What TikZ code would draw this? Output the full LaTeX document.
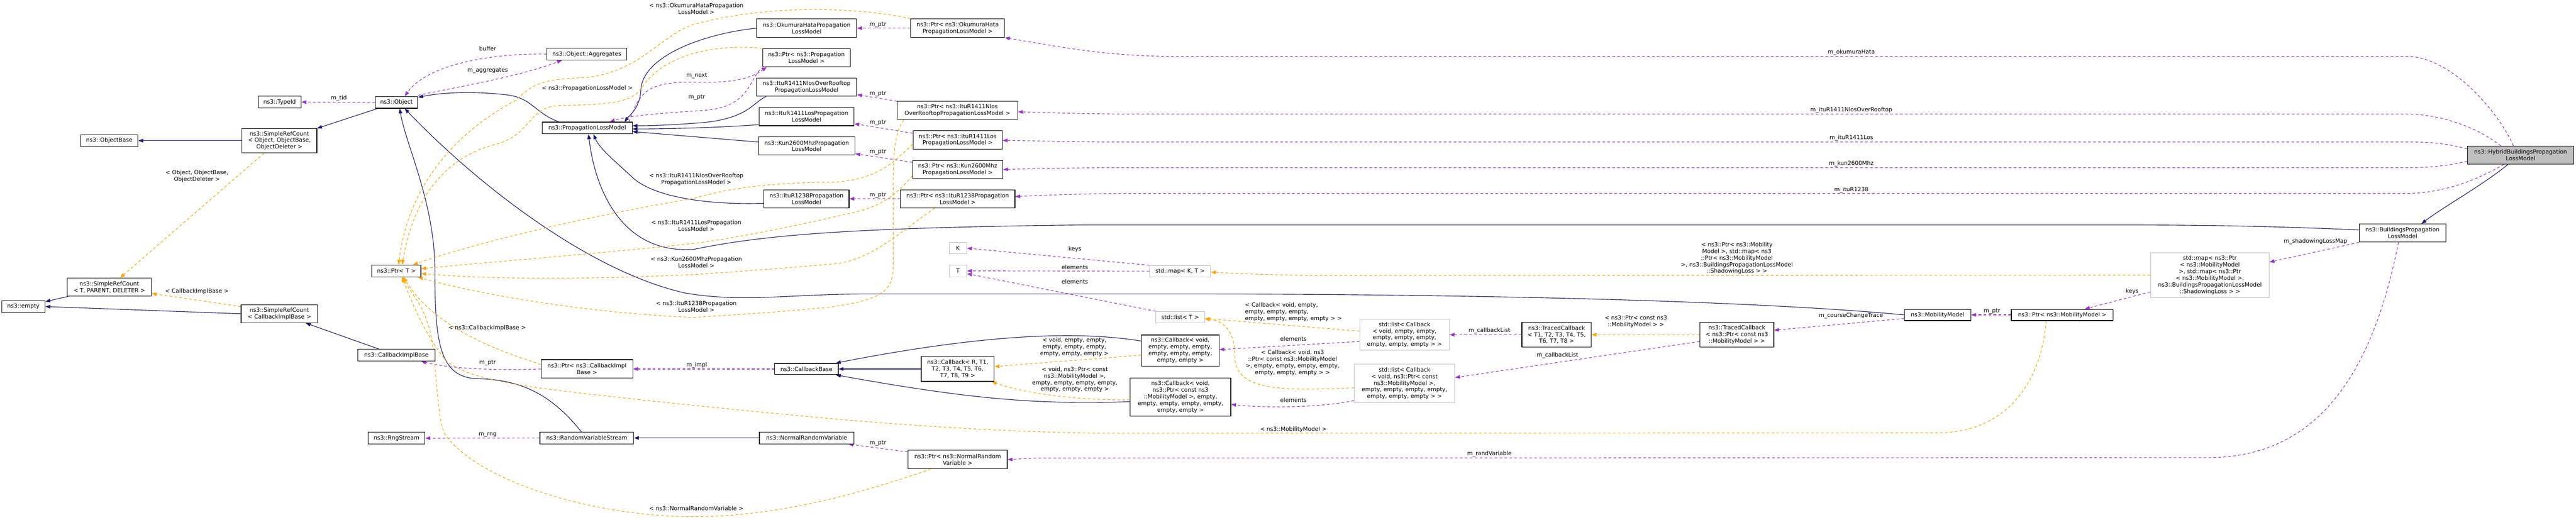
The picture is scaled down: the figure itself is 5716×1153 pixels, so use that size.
\documentclass[tikz,border=0pt]{standalone}
\usepackage{fontspec}
\setmainfont{DejaVu Sans}
\usepackage{xcolor}
\usepackage{tikz}
\usetikzlibrary{arrows.meta, backgrounds}

\definecolor{inhcol}{HTML}{191970}
\definecolor{usecol}{HTML}{9A32CD}
\definecolor{tplcol}{HTML}{FFA500}
\definecolor{extcol}{HTML}{BFBFBF}
\newcommand{\dfont}{\fontsize{12.6}{14.7}\selectfont}

\begin{document}
\begin{tikzpicture}[x=1pt, y=-1pt,
    cls/.style={rectangle, draw=black, fill=white, line width=1.3pt, inner sep=1pt, align=center, font=\dfont},
    ext/.style={cls, draw=extcol},
    lbl/.style={inner sep=0pt, align=center, font=\dfont},
    inh/.style={draw=inhcol, line width=1.3pt, -{Triangle[length=11pt,width=8pt]}},
    use/.style={draw=usecol, line width=1.3pt, dash pattern=on 6pt off 5pt, -{Triangle[length=11pt,width=8pt]}},
    tpl/.style={draw=tplcol, line width=1.3pt, dash pattern=on 6pt off 5pt, -{Triangle[length=11pt,width=8pt]}}]
    \useasboundingbox (0,0) rectangle (5716,1153);

    % Classi base a sinistra
    \node[cls, minimum width=96pt, minimum height=26pt] (empty) at (52,680) {ns3::empty};
    \node[cls, minimum width=187pt, minimum height=40pt] (srcT) at (242.5,637) {ns3::SimpleRefCount\\< T, PARENT, DELETER >};
    \node[cls, minimum width=127pt, minimum height=26pt] (objBase) at (242.5,312) {ns3::ObjectBase};
    \node[cls, minimum width=166pt, minimum height=54pt] (srcObj) at (620,312) {ns3::SimpleRefCount\\< Object, ObjectBase,\\ObjectDeleter >};
    \node[cls, minimum width=170pt, minimum height=40pt] (srcCb) at (620,696) {ns3::SimpleRefCount\\< CallbackImplBase >};
    \node[cls, minimum width=95pt, minimum height=26pt] (typeId) at (620.5,226.5) {ns3::TypeId};
    \node[cls, minimum width=94pt, minimum height=26pt] (object) at (880,227) {ns3::Object};
    \node[cls, minimum width=109pt, minimum height=26pt] (ptrT) at (879.5,601) {ns3::Ptr< T >};
    \node[cls, minimum width=171pt, minimum height=26pt] (cbImpl) at (879.5,788) {ns3::CallbackImplBase};
    \node[cls, minimum width=126pt, minimum height=26pt] (rng) at (880,972) {ns3::RngStream};
    \node[cls, minimum width=178pt, minimum height=26pt] (aggr) at (1302,120) {ns3::Object::Aggregates};
    \node[cls, minimum width=200pt, minimum height=26pt] (plm) at (1303,284) {ns3::PropagationLossModel};
    \node[cls, minimum width=203pt, minimum height=41pt] (ptrCb) at (1302.5,818.5) {ns3::Ptr< ns3::CallbackImpl\\Base >};
    \node[cls, minimum width=208pt, minimum height=26pt] (rvs) at (1302,971.5) {ns3::RandomVariableStream};

    % Modelli di propagazione
    \node[cls, minimum width=222pt, minimum height=41pt] (oku) at (1790,62.5) {ns3::OkumuraHataPropagation\\LossModel};
    \node[cls, minimum width=195pt, minimum height=40pt] (ptrPlm) at (1789.5,128) {ns3::Ptr< ns3::Propagation\\LossModel >};
    \node[cls, minimum width=222pt, minimum height=40pt] (nlos) at (1790,193) {ns3::ItuR1411NlosOverRooftop\\PropagationLossModel};
    \node[cls, minimum width=211pt, minimum height=41pt] (los) at (1789.5,258.5) {ns3::ItuR1411LosPropagation\\LossModel};
    \node[cls, minimum width=214pt, minimum height=40pt] (kun) at (1790,324) {ns3::Kun2600MhzPropagation\\LossModel};
    \node[cls, minimum width=189pt, minimum height=40pt] (r1238) at (1789.5,441) {ns3::ItuR1238Propagation\\LossModel};
    \node[cls, minimum width=141pt, minimum height=25pt] (cbBase) at (1789.5,818.5) {ns3::CallbackBase};
    \node[cls, minimum width=210pt, minimum height=26pt] (nrv) at (1790,971.5) {ns3::NormalRandomVariable};

    % Puntatori
    \node[cls, minimum width=208pt, minimum height=41pt] (ptrOku) at (2125,62.5) {ns3::Ptr< ns3::OkumuraHata\\PropagationLossModel >};
    \node[cls, minimum width=267pt, minimum height=40pt] (ptrNlos) at (2124.5,245) {ns3::Ptr< ns3::ItuR1411Nlos\\OverRooftopPropagationLossModel >};
    \node[cls, minimum width=198pt, minimum height=41pt] (ptrLos) at (2125,310.5) {ns3::Ptr< ns3::ItuR1411Los\\PropagationLossModel >};
    \node[cls, minimum width=200pt, minimum height=40pt] (ptrKun) at (2125,376) {ns3::Ptr< ns3::Kun2600Mhz\\PropagationLossModel >};
    \node[cls, minimum width=254pt, minimum height=40pt] (ptr1238) at (2125,441) {ns3::Ptr< ns3::ItuR1238Propagation\\LossModel >};
    \node[ext, minimum width=39pt, minimum height=25pt] (k) at (2125.5,550.5) {K};
    \node[ext, minimum width=39pt, minimum height=26pt] (t) at (2125.5,601) {T};
    \node[cls, minimum width=162pt, minimum height=55pt] (cbRT) at (2125,818.5) {ns3::Callback< R, T1,\\T2, T3, T4, T5, T6,\\T7, T8, T9 >};
    \node[cls, minimum width=220pt, minimum height=41pt] (ptrNrv) at (2125,1019.5) {ns3::Ptr< ns3::NormalRandom\\Variable >};

    % Contenitori e callback
    \node[ext, minimum width=135pt, minimum height=25pt] (mapKT) at (2618.5,601.5) {std::map< K, T >};
    \node[ext, minimum width=108pt, minimum height=25pt] (listT) at (2619,703.5) {std::list< T >};
    \node[cls, minimum width=172pt, minimum height=69pt] (cbEmpty) at (2619,777.5) {ns3::Callback< void,\\empty, empty, empty,\\empty, empty, empty,\\empty, empty >};
    \node[cls, minimum width=223pt, minimum height=84pt] (cbPtr) at (2619.5,881) {ns3::Callback< void,\\ns3::Ptr< const ns3\\::MobilityModel >, empty,\\empty, empty, empty, empty,\\empty, empty >};
    \node[ext, minimum width=199pt, minimum height=69pt] (listCbE) at (3116.5,742.5) {std::list< Callback\\< void, empty, empty,\\empty, empty, empty,\\empty, empty, empty > >};
    \node[ext, minimum width=223pt, minimum height=85pt] (listCbP) at (3116.5,850.5) {std::list< Callback\\< void, ns3::Ptr< const\\ns3::MobilityModel >,\\empty, empty, empty, empty,\\empty, empty, empty > >};
    \node[cls, minimum width=154pt, minimum height=55pt] (tcb) at (3454,742.5) {ns3::TracedCallback\\< T1, T2, T3, T4, T5,\\T6, T7, T8 >};
    \node[cls, minimum width=164pt, minimum height=55pt] (tcbMM) at (3854,742.5) {ns3::TracedCallback\\< ns3::Ptr< const ns3\\::MobilityModel > >};

    % Mobilità ed edifici
    \node[cls, minimum width=147pt, minimum height=25pt] (mm) at (4299.5,698.5) {ns3::MobilityModel};
    \node[cls, minimum width=226pt, minimum height=25pt] (ptrMM) at (4576,698.5) {ns3::Ptr< ns3::MobilityModel >};
    \node[ext, minimum width=263pt, minimum height=99pt] (mapMM) at (4903.5,610.5) {std::map< ns3::Ptr\\< ns3::MobilityModel\\>, std::map< ns3::Ptr\\< ns3::MobilityModel >,\\ns3::BuildingsPropagationLossModel\\::ShadowingLoss > >};
    \node[cls, minimum width=192pt, minimum height=40pt] (bplm) at (5331,517) {ns3::BuildingsPropagation\\LossModel};
    \node[cls, fill=extcol, minimum width=236pt, minimum height=40pt] (hybrid) at (5593,344) {ns3::HybridBuildingsPropagation\\LossModel};

    % Etichette degli archi
    \node[lbl] (lTid) at (752,218) {m\_tid};
    \node[lbl] (lBuf) at (1082,108) {buffer};
    \node[lbl] (lAggr) at (1082,156) {m\_aggregates};
    \node[lbl] (lSrcObj) at (437,391) {< Object, ObjectBase,\\ObjectDeleter >};
    \node[lbl] (lSrcCb) at (437,646) {< CallbackImplBase >};
    \node[lbl] (lPlm) at (1303,196) {< ns3::PropagationLossModel >};
    \node[lbl] (lOku) at (1545,19) {< ns3::OkumuraHataPropagation\\LossModel >};
    \node[lbl] (lNext) at (1546,168) {m\_next};
    \node[lbl] (lPtrPlm) at (1546,216) {m\_ptr};
    \node[lbl] (lNlos) at (1545,398) {< ns3::ItuR1411NlosOverRooftop\\PropagationLossModel >};
    \node[lbl] (lLos) at (1545,501) {< ns3::ItuR1411LosPropagation\\LossModel >};
    \node[lbl] (lKun) at (1545,582) {< ns3::Kun2600MhzPropagation\\LossModel >};
    \node[lbl] (l1238) at (1545,680) {< ns3::ItuR1238Propagation\\LossModel >};
    \node[lbl] (lCbImpl) at (1081,728) {< ns3::CallbackImplBase >};
    \node[lbl] (lPtrCb) at (1082,805) {m\_ptr};
    \node[lbl] (lRng) at (1082,965) {m\_rng};
    \node[lbl] (lImpl) at (1546,810) {m\_impl};
    \node[lbl] (lNrv) at (1545,1128) {< ns3::NormalRandomVariable >};
    \node[lbl] (lPtrOku) at (1948,55) {m\_ptr};
    \node[lbl] (lPtrNlos) at (1948,208) {m\_ptr};
    \node[lbl] (lPtrLos) at (1948,272) {m\_ptr};
    \node[lbl] (lPtrKun) at (1948,337) {m\_ptr};
    \node[lbl] (lPtr1238) at (1948,433) {m\_ptr};
    \node[lbl] (lPtrNrv) at (1948,983) {m\_ptr};
    \node[lbl] (lKeys) at (2385,553) {keys};
    \node[lbl] (lElMap) at (2385,593) {elements};
    \node[lbl] (lElList) at (2385,625) {elements};
    \node[lbl] (lCbE) at (2384,770) {< void, empty, empty,\\empty, empty, empty,\\empty, empty, empty >};
    \node[lbl] (lCbP) at (2385,842) {< void, ns3::Ptr< const\\ns3::MobilityModel >,\\empty, empty, empty, empty,\\empty, empty, empty >};
    \node[lbl, align=left] (lListE) at (2870,692) {< Callback< void, empty,\\empty, empty, empty,\\empty, empty, empty, empty > >};
    \node[lbl] (lElE) at (2870,752) {elements};
    \node[lbl] (lListP) at (2868,805) {< Callback< void, ns3\\::Ptr< const ns3::MobilityModel\\>, empty, empty, empty, empty,\\empty, empty, empty > >};
    \node[lbl] (lElP) at (2870,887) {elements};
    \node[lbl] (lMM) at (2870,953) {< ns3::MobilityModel >};
    \node[lbl] (lCbl1) at (3305,734) {m\_callbackList};
    \node[lbl] (lCbl2) at (3456,788) {m\_callbackList};
    \node[lbl] (lTcb) at (3630,713) {< ns3::Ptr< const ns3\\::MobilityModel > >};
    \node[lbl] (lMap) at (3854,573) {< ns3::Ptr< ns3::Mobility\\Model >, std::map< ns3\\::Ptr< ns3::MobilityModel\\>, ns3::BuildingsPropagationLossModel\\::ShadowingLoss > >};
    \node[lbl] (lRand) at (3305,1007) {m\_randVariable};
    \node[lbl] (lCourse) at (4107,700) {m\_courseChangeTrace};
    \node[lbl] (lOkuM) at (4108,116) {m\_okumuraHata};
    \node[lbl] (lNlosM) at (4108,244) {m\_ituR1411NlosOverRooftop};
    \node[lbl] (lLosM) at (4108,306) {m\_ituR1411Los};
    \node[lbl] (lKunM) at (4108,363) {m\_kun2600Mhz};
    \node[lbl] (l1238M) at (4108,421) {m\_ituR1238};
    \node[lbl] (lPtrMM) at (4420,690) {m\_ptr};
    \node[lbl] (lKeysMM) at (4731,646) {keys};
    \node[lbl] (lShadow) at (5138,536) {m\_shadowingLossMap};

    \begin{scope}[on background layer]
    \fill[white] (0,0) rectangle (5716,1153);

    % Ereditarietà
    \draw[inh] (srcObj) -- (objBase);
    \draw[inh] (object) -- (srcObj);
    \draw[inh] (srcT) -- (empty);
    \draw[inh] (srcCb.west) -- (empty.east);
    \draw[inh] (cbImpl) -- (srcCb);
    \draw[inh] ([xshift=-63pt]plm.north) .. controls (1185,250) and (1180,215) .. (1120,210) .. controls (1050,202) and (980,205) .. ([yshift=11pt]object.east);
    \draw[inh] ([xshift=-12pt]rvs.north) .. controls (1220,870) and (1150,842) .. (1060,840) .. controls (975,838) and (965,760) .. (965,600) .. controls (965,450) and (900,320) .. ([xshift=7pt]object.south);
    \draw[inh] (mm.west) .. controls (3900,668) and (3300,652) .. (2600,652) -- (1930,652) .. controls (1750,652) and (1650,672) .. (1520,650) .. controls (1300,600) and (1050,400) .. ([xshift=18pt]object.south);
    \draw[inh] (oku.west) .. controls (1560,75) and (1425,125) .. (1422,200) .. controls (1420,240) and (1395,258) .. ([xshift=-18pt]plm.north east);
    \draw[inh] ([xshift=22pt]nlos.south west) .. controls (1670,228) and (1660,262) .. (1560,272) .. controls (1480,278) and (1440,279) .. ([yshift=5pt]plm.east);
    \draw[inh] ([yshift=-18pt]los.west) .. controls (1600,283) and (1480,286) .. ([yshift=-2pt]plm.east);
    \draw[inh] ([yshift=9pt]kun.west) -- ([yshift=-8pt]plm.east);
    \draw[inh] ([yshift=-10pt]r1238.west) .. controls (1560,455) and (1450,435) .. (1405,395) .. controls (1370,362) and (1330,330) .. ([xshift=14pt]plm.south);
    \draw[inh] ([yshift=7pt]bplm.west) .. controls (5050,502) and (4900,499) .. (4700,499) -- (2400,499) .. controls (1900,505) and (1700,520) .. (1540,553) .. controls (1380,565) and (1320,420) .. ([xshift=3pt]plm.south);
    \draw[inh] ([xshift=-28pt]hybrid.south) .. controls (5510,410) and (5420,460) .. ([xshift=42pt]bplm.north);
    \draw[inh] (nrv) -- (rvs);
    \draw[inh] (cbRT) -- (cbBase);
    \draw[inh] ([yshift=21pt]cbEmpty.west) .. controls (2400,735) and (2200,738) .. ([xshift=-6pt]cbBase.north east);
    \draw[inh] ([yshift=-10pt]cbPtr.west) .. controls (2300,898) and (2150,885) .. ([xshift=-6pt]cbBase.south east);

    % Uso (membri)
    \draw[use] (object.west) -- (typeId.east);
    \draw[use] (aggr.west) .. controls (1100,118) and (950,140) .. ([xshift=18pt]object.north);
    \draw[use] ([yshift=2pt]object.north east) .. controls (1040,188) and (1150,170) .. ([xshift=-55pt]aggr.south);
    \draw[use] ([xshift=-8pt]plm.north east) .. controls (1420,200) and (1440,182) .. (1540,182) .. controls (1620,185) and (1665,175) .. ([xshift=10pt]ptrPlm.south west);
    \draw[use] ([xshift=3pt]ptrPlm.south west) .. controls (1660,170) and (1670,238) .. (1560,245) .. controls (1450,252) and (1390,258) .. ([xshift=50pt]plm.north);
    \draw[use] (ptrOku.west) -- (oku.east);
    \draw[use] (ptrNlos.north west) -- ([yshift=-17pt]nlos.east);
    \draw[use] ([yshift=15pt]ptrLos.west) -- ([yshift=-16pt]los.east);
    \draw[use] ([yshift=16pt]ptrKun.west) -- ([yshift=-17pt]kun.east);
    \draw[use] (ptr1238.west) -- (r1238.east);
    \draw[use] ([yshift=17pt]ptrNrv.west) -- ([xshift=-13pt]nrv.south east);
    \draw[use] (ptrCb.west) .. controls (1100,822) and (1000,818) .. ([xshift=55pt]cbImpl.south);
    \draw[use] (cbBase.west) -- (ptrCb.east);
    \draw[use] (rvs.west) -- (rng.east);
    \draw[use] ([xshift=-16pt]hybrid.north) .. controls (5545,250) and (5440,125) .. (5340,125) -- (2600,125) .. controls (2450,125) and (2330,100) .. (ptrOku.south east);
    \draw[use] ([xshift=-44pt]hybrid.north) .. controls (5500,285) and (5420,253) .. (5340,253) -- (2520,253) .. controls (2400,253) and (2300,249) .. ([yshift=-3pt]ptrNlos.east);
    \draw[use] ([yshift=14pt]hybrid.west) .. controls (5420,316) and (5380,315) .. (5340,315) -- (2450,315) .. controls (2350,314) and (2290,312) .. ([yshift=-1pt]ptrLos.east);
    \draw[use] ([yshift=-14pt]hybrid.west) .. controls (5420,370) and (5380,372) .. (5340,372) -- (2450,372) .. controls (2350,373) and (2290,374) .. (ptrKun.east);
    \draw[use] ([xshift=-37pt]hybrid.south) .. controls (5495,400) and (5420,429) .. (5340,429) -- (2520,429) .. controls (2400,429) and (2300,434) .. ([yshift=5pt]ptr1238.east);
    \draw[use] ([xshift=-9pt]bplm.south) .. controls (5270,800) and (5160,1015) .. (4900,1015) -- (2300,1016) .. controls (2270,1017) and (2250,1019) .. (ptrNrv.east);
    \draw[use] (bplm.south west) -- ([yshift=29pt]mapMM.east);
    \draw[use] ([yshift=-37pt]mapMM.west) -- ([xshift=50pt]ptrMM.north);
    \draw[use] (ptrMM.west) -- (mm.east);
    \draw[use] ([yshift=-8pt]mm.west) -- ([yshift=10pt]tcbMM.east);
    \draw[use] (tcb.west) -- (listCbE.east);
    \draw[use] ([yshift=-15pt]tcbMM.west) -- ([yshift=13pt]listCbP.east);
    \draw[use] ([yshift=-15pt]listCbE.west) -- ([yshift=2pt]cbEmpty.east);
    \draw[use] ([yshift=-38pt]listCbP.west) .. controls (2930,905) and (2800,905) .. ([yshift=-16pt]cbPtr.east);
    \draw[use] (mapKT.north west) -- (k.east);
    \draw[use] (mapKT.west) -- (t.east);
    \draw[use] (listT.north west) -- ([yshift=-6pt]t.east);

    % Istanze di template
    \draw[tpl] ([xshift=-34pt]srcObj.south) -- ([xshift=24pt]srcT.north);
    \draw[tpl] ([yshift=16pt]srcCb.west) -- ([yshift=-14pt]srcT.east);
    \draw[tpl] (ptrOku.north west) .. controls (1900,15) and (1700,10) .. (1540,54) .. controls (1470,75) and (1420,160) .. (1300,172) .. controls (1200,176) and (1185,185) .. (1145,222) .. controls (1000,300) and (905,420) .. ([xshift=5pt]ptrT.north);
    \draw[tpl] (ptrPlm.north west) .. controls (1620,100) and (1480,105) .. (1420,200) .. controls (1395,235) and (1300,232) .. (1243,234) .. controls (1170,236) and (1180,300) .. (1100,320) .. controls (980,350) and (915,450) .. ([xshift=13pt]ptrT.north);
    \draw[tpl] ([yshift=-10pt]ptrLos.west) .. controls (1990,350) and (1960,395) .. (1856,404) .. controls (1750,405) and (1640,410) .. (1540,440) .. controls (1300,480) and (1050,540) .. ([xshift=37pt]ptrT.north);
    \draw[tpl] ([yshift=-14pt]ptrKun.west) .. controls (1990,430) and (1960,455) .. (1900,470) .. controls (1750,505) and (1620,530) .. (1540,540) .. controls (1300,565) and (1100,580) .. ([yshift=5pt]ptrT.east);
    \draw[tpl] ([xshift=-51pt]ptr1238.south) .. controls (1990,520) and (1930,580) .. (1844,586) .. controls (1700,598) and (1600,605) .. (1540,609) .. controls (1300,620) and (1100,620) .. ([yshift=-6pt]ptrT.east);
    \draw[tpl] ([xshift=-119pt]ptrNlos.south) .. controls (1982,300) and (1982,350) .. (1982,450) -- (1982,590) .. controls (1982,650) and (1950,665) .. (1844,681) .. controls (1700,695) and (1600,700) .. (1540,704) .. controls (1300,695) and (1050,650) .. ([xshift=48pt]ptrT.south);
    \draw[tpl] ([yshift=10pt]ptrCb.west) .. controls (1080,770) and (960,720) .. ([xshift=16pt]ptrT.south);
    \draw[tpl] ([xshift=-36pt]ptrMM.south) .. controls (4530,850) and (4450,960) .. (4300,960) -- (2500,961) .. controls (2100,961) and (1700,915) .. (1450,890) .. controls (1200,862) and (1050,850) .. (990,800) .. controls (940,740) and (910,660) .. ([xshift=12pt]ptrT.south);
    \draw[tpl] ([xshift=-60pt]ptrNrv.south) .. controls (1950,1080) and (1750,1146) .. (1540,1146) .. controls (1300,1146) and (1050,1060) .. (985,960) .. controls (965,900) and (970,780) .. (950,720) .. controls (935,670) and (905,640) .. ([xshift=14pt]ptrT.south);
    \draw[tpl] (tcbMM) -- (tcb);
    \draw[tpl] ([yshift=8pt]listCbE.west) -- ([yshift=-3pt]listT.east);
    \draw[tpl] ([yshift=-10pt]listCbP.west) .. controls (2850,866) and (2740,870) .. (2740,790) .. controls (2740,740) and (2720,712) .. ([yshift=-4pt]listT.east);
    \draw[tpl] ([yshift=-10pt]cbEmpty.west) .. controls (2450,795) and (2300,805) .. ([yshift=5pt]cbRT.east);
    \draw[tpl] ([yshift=-6pt]cbPtr.west) .. controls (2400,888) and (2280,875) .. ([xshift=-6pt]cbRT.south east);
    \draw[tpl] (mapMM.west) -- (2900,611) .. controls (2800,609) and (2720,606) .. ([yshift=-2pt]mapKT.east);
    \end{scope}
\end{tikzpicture}
\end{document}
